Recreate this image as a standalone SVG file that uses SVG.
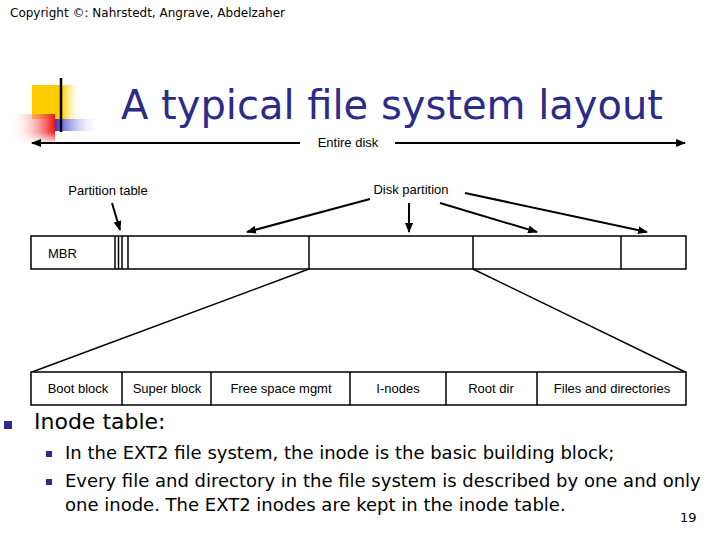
<svg xmlns="http://www.w3.org/2000/svg" width="720" height="540" viewBox="0 0 720 540">
<defs>
<marker id="ah" markerWidth="10" markerHeight="8" refX="9" refY="4" orient="auto" markerUnits="userSpaceOnUse"><path d="M0,0 L10,4 L0,8 z" fill="#000"/></marker>
<linearGradient id="gy" x1="0" x2="1"><stop offset="0" stop-color="#ffcc00"/><stop offset="0.6" stop-color="#ffcc00"/><stop offset="1" stop-color="#fff" stop-opacity="0"/></linearGradient>
<linearGradient id="gr" x1="1" x2="0"><stop offset="0" stop-color="#ee1111"/><stop offset="1" stop-color="#fff" stop-opacity="0"/></linearGradient>
<linearGradient id="gb" x1="0" x2="1"><stop offset="0" stop-color="#3333cc"/><stop offset="1" stop-color="#fff" stop-opacity="0"/></linearGradient>
<linearGradient id="gr2" x1="0" y1="0" x2="0" y2="1"><stop offset="0" stop-color="#fff" stop-opacity="0"/><stop offset="1" stop-color="#fff"/></linearGradient>
</defs>
<style>
.s{font-family:"Liberation Sans",Arial,sans-serif;font-size:13px;fill:#000}
.t{font-family:Tahoma,"DejaVu Sans",sans-serif}
.box{fill:#fff;stroke:#000;stroke-width:1.5}
.ln{stroke:#000;stroke-width:1.5;fill:none}
.ar{stroke:#000;stroke-width:2;fill:none;marker-end:url(#ah)}
</style>
<rect width="720" height="540" fill="#fff"/>
<text x="10" y="17" class="t" font-size="12">Copyright ©: Nahrstedt, Angrave, Abdelzaher</text>
<g id="logo">
<rect x="32" y="85" width="50" height="34" fill="url(#gy)"/>
<rect x="55" y="119" width="45" height="12" fill="url(#gb)"/>
<rect x="10" y="114" width="45" height="30" fill="url(#gr)"/>
<rect x="10" y="132" width="45" height="12" fill="url(#gr2)"/>
<line x1="61" y1="78" x2="61" y2="132" stroke="#000" stroke-width="2.5"/>
</g>
<text x="392" y="119" class="t" font-size="40" fill="#2b2b8a" text-anchor="middle">A typical file system layout</text>
<g id="connectors">
<line class="ar" x1="300" y1="143" x2="32" y2="143"/>
<line class="ar" x1="395" y1="143" x2="685" y2="143"/>
<line class="ar" x1="112" y1="203" x2="120" y2="230"/>
<line class="ar" x1="370" y1="199" x2="247" y2="232"/>
<line class="ar" x1="409" y1="203" x2="409" y2="232"/>
<line class="ar" x1="440" y1="203" x2="537" y2="232"/>
<line class="ar" x1="465" y1="193" x2="647" y2="232"/>
<line class="ln" x1="309" y1="269" x2="32" y2="372"/>
<line class="ln" x1="473" y1="269" x2="685" y2="372"/>
</g>
<text x="348" y="147" class="s" text-anchor="middle">Entire disk</text>
<text x="108" y="195" class="s" text-anchor="middle">Partition table</text>
<text x="411" y="194" class="s" text-anchor="middle">Disk partition</text>
<g id="disk">
<rect class="box" x="31" y="236" width="655" height="33"/>
<line class="ln" x1="115" y1="236" x2="115" y2="269" stroke-width="1"/>
<line class="ln" x1="118.5" y1="236" x2="118.5" y2="269" stroke-width="1"/>
<line class="ln" x1="122" y1="236" x2="122" y2="269" stroke-width="1"/>
<line class="ln" x1="128" y1="236" x2="128" y2="269"/>
<line class="ln" x1="309" y1="236" x2="309" y2="269"/>
<line class="ln" x1="473" y1="236" x2="473" y2="269"/>
<line class="ln" x1="621" y1="236" x2="621" y2="269"/>
<text x="48" y="258" class="s">MBR</text>
</g>
<g id="partition">
<rect class="box" x="31" y="372" width="655" height="33"/>
<line class="ln" x1="122" y1="372" x2="122" y2="405"/>
<line class="ln" x1="211" y1="372" x2="211" y2="405"/>
<line class="ln" x1="350" y1="372" x2="350" y2="405"/>
<line class="ln" x1="446" y1="372" x2="446" y2="405"/>
<line class="ln" x1="537" y1="372" x2="537" y2="405"/>
<text x="78" y="393" class="s" text-anchor="middle">Boot block</text>
<text x="167" y="393" class="s" text-anchor="middle">Super block</text>
<text x="281" y="393" class="s" text-anchor="middle">Free space mgmt</text>
<text x="398" y="393" class="s" text-anchor="middle">I-nodes</text>
<text x="491" y="393" class="s" text-anchor="middle">Root dir</text>
<text x="612" y="393" class="s" text-anchor="middle">Files and directories</text>
</g>
<rect x="4" y="421" width="8" height="8" fill="#2b2b8a"/>
<text x="34" y="429" class="t" font-size="22">Inode table:</text>
<rect x="46" y="451" width="6" height="6" fill="#2b2b8a"/>
<rect x="46" y="479" width="6" height="6" fill="#2b2b8a"/>
<text x="65" y="459" class="t" font-size="18">In the EXT2 file system, the inode is the basic building block;</text>
<text x="65" y="487" class="t" font-size="18">Every file and directory in the file system is described by one and only</text>
<text x="65" y="511" class="t" font-size="18">one inode. The EXT2 inodes are kept in the inode table.</text>
<text x="680" y="522" class="t" font-size="13">19</text>
</svg>
